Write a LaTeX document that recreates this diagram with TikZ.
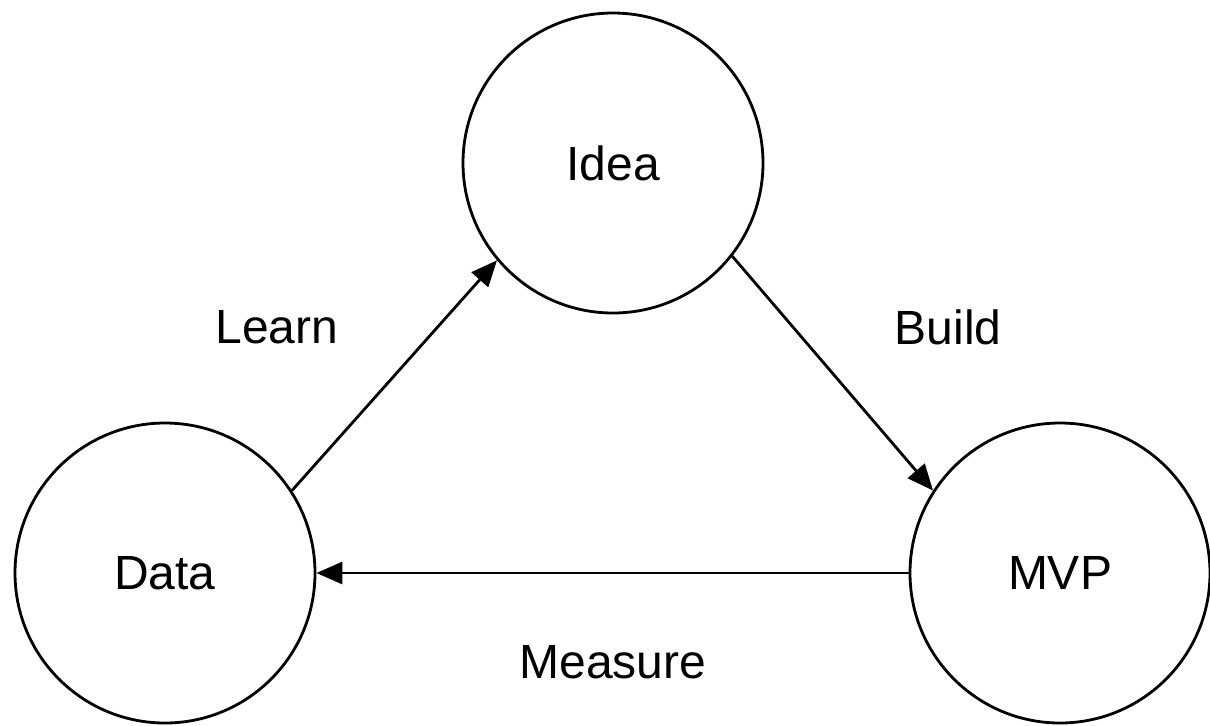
\documentclass[tikz,border=0pt]{standalone}
\usepackage{fontspec}
\setmainfont{Liberation Sans}
\usetikzlibrary{arrows.meta}

\begin{document}
\begin{tikzpicture}[x=0.5pt, y=-0.5pt]
\useasboundingbox (0,0) rectangle (1210,725);
\begin{scope}[every node/.style={circle, draw, line width=1.4pt, minimum size=150pt, inner sep=0pt, font=\fontsize{24}{28}\selectfont}]
    \node (idea) at (613,163) {Idea};
    \node (data) at (165,573) {Data};
    \node (mvp) at (1060,573) {MVP};
\end{scope}
\begin{scope}[every node/.style={font=\fontsize{24}{28}\selectfont}]
    \node (learn) at (277,327) {Learn};
    \node (build) at (948,327) {Build};
    \node (measure) at (613,662) {Measure};
\end{scope}
\begin{scope}[every edge/.style={draw=black, line width=1.4pt, -{Triangle[length=13pt, width=11pt]}}]
    \path (data.33) edge (idea.220);
    \path (idea.322) edge (mvp.147);
    \path (mvp.west) edge (data.east);
\end{scope}
\end{tikzpicture}
\end{document}
